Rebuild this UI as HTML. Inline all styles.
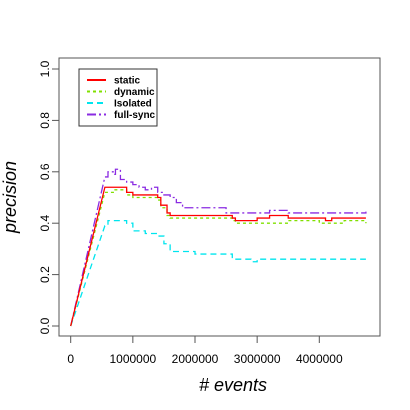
<!DOCTYPE html>
<html><head><meta charset="utf-8"><style>
html,body{margin:0;padding:0;background:#fff}
svg{display:block;font-family:"Liberation Sans",sans-serif}
</style></head><body>
<svg id="c" width="410" height="410" viewBox="0 0 410 410">
<rect x="59" y="58" width="321" height="278" fill="none" stroke="#555" stroke-width="1"/>
<g id="axes"></g>
<g id="series"></g>
<text x="233" y="391" font-size="18" font-style="italic" text-anchor="middle"># events</text>
<text transform="translate(16,197) rotate(-90)" font-size="18" font-style="italic" text-anchor="middle">precision</text>
<g>
<rect x="79" y="69" width="78" height="57" fill="#fff" stroke="#333" stroke-width="1"/>
<g id="legend"></g>
</g>
</svg>
<script>
const xTicks=[0,1000000,2000000,3000000,4000000];
const yTicks=[0,0.2,0.4,0.6,0.8,1.0];
const seriesNames=["static","dynamic","Isolated","full-sync"];
const staticX=[0,0.55,0.7,0.9,1.0,1.4,1.45,1.55,1.6,2.2,2.25,2.6,2.65,3.0,3.2,3.5,4.1,4.2,4.75];
const staticY=[0,0.54,0.54,0.52,0.51,0.50,0.47,0.44,0.43,0.43,0.43,0.42,0.41,0.42,0.43,0.42,0.41,0.42,0.42];
const dynamicX=[0,0.55,0.7,0.9,1.0,1.4,1.45,1.55,1.6,2.2,2.6,2.65,3.0,3.5,4.0,4.4,4.75];
const dynamicY=[0,0.52,0.53,0.51,0.50,0.49,0.46,0.43,0.42,0.42,0.41,0.40,0.40,0.41,0.40,0.41,0.40];
const isolatedX=[0,0.55,0.6,0.9,1.0,1.2,1.4,1.5,1.6,2.0,2.5,2.6,2.9,3.0,4.75];
const isolatedY=[0,0.39,0.41,0.40,0.37,0.36,0.35,0.32,0.29,0.28,0.28,0.26,0.25,0.26,0.26];
const fullX=[0,0.55,0.6,0.7,0.72,0.8,0.9,1.0,1.1,1.2,1.3,1.4,1.5,1.6,1.7,1.8,2.4,2.5,3.0,3.2,3.5,4.75];
const fullY=[0,0.58,0.60,0.59,0.61,0.57,0.56,0.55,0.54,0.53,0.54,0.52,0.51,0.50,0.48,0.46,0.46,0.44,0.44,0.45,0.44,0.445];
const NS="http://www.w3.org/2000/svg";
function sx(v){return 70.7+v/1e6*62.15;}
function sy(v){return 326-v*257;}
function mk(t,a,p){const e=document.createElementNS(NS,t);for(const k in a)e.setAttribute(k,a[k]);p.appendChild(e);return e;}
const axes=document.getElementById('axes');
xTicks.forEach(v=>{
 const l=mk('line',{x1:sx(v),x2:sx(v),y1:336,y2:343,stroke:'#555'},axes);
 
 
 const t=mk('text',{x:sx(v),y:363,'font-size':12,'text-anchor':'middle'},axes);
 t.textContent=String(v);
 
 
});
yTicks.forEach(v=>{
 const l=mk('line',{x1:52,x2:59,y1:sy(v),y2:sy(v),stroke:'#555'},axes);
 
 
 const t=mk('text',{transform:`translate(49,${sy(v)}) rotate(-90)`,'font-size':12,'text-anchor':'middle'},axes);
 t.textContent=v.toFixed(1);
 
 
});
const styles=[{c:'#ff0000',d:''},{c:'#80e000',d:'3,3'},{c:'#00e5ee',d:'6,4'},{c:'#8a2be2',d:'9,3,2,3'}];
const data=[[staticX,staticY],[dynamicX,dynamicY],[isolatedX,isolatedY],[fullX,fullY]];
const sg=document.getElementById('series');
const order=[3,2,1,0];
order.forEach(i=>{
 const [xs,ys]=data[i];
 let d=`M${sx(xs[0]*1e6)},${sy(ys[0])} L${sx(xs[1]*1e6)},${sy(ys[1])}`;
 for(let k=2;k<xs.length;k++){d+=` H${sx(xs[k]*1e6)} V${sy(ys[k])}`;}
 const p=mk('path',{d:d,fill:'none',stroke:styles[i].c,'stroke-width':1.3,'stroke-dasharray':styles[i].d},sg);
 
 
});
const lg=document.getElementById('legend');
seriesNames.forEach((n,i)=>{
 const y=80+i*11.5;
 const l=mk('line',{x1:87,x2:106,y1:y,y2:y,stroke:styles[i].c,'stroke-width':2,'stroke-dasharray':styles[i].d},lg);
 
 
 const t=mk('text',{x:114,y:y+3.5,'font-size':10,'font-weight':'bold'},lg);
 t.textContent=n;
 
 
});
</script>
</body></html>
